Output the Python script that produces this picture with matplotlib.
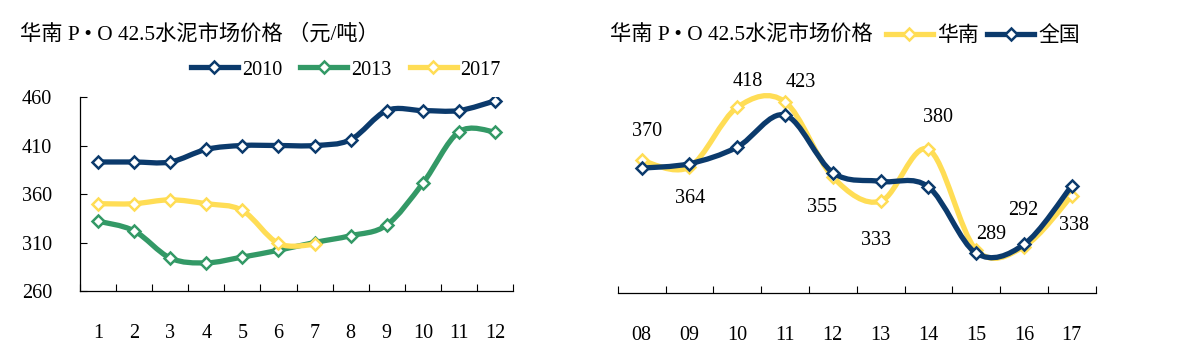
import numpy as np
import matplotlib
matplotlib.use("Agg")
from matplotlib import pyplot as plt
from matplotlib.path import Path
from matplotlib.patches import PathPatch
from matplotlib.lines import Line2D

FONT = ['Liberation Serif', 'Noto Sans CJK SC']
plt.rcParams['font.family'] = FONT

# left chart data
months = ['1', '2', '3', '4', '5', '6', '7', '8', '9', '10', '11', '12']
y2010 = [393, 393, 393, 406, 410, 410, 410, 416, 446, 446, 446, 456]
y2013 = [332, 322, 294, 289, 295, 302, 310, 317, 328, 371, 424, 424]
y2017 = [350, 350, 354, 350, 343, 309, 308]

# right chart data
years = ['08', '09', '10', '11', '12', '13', '14', '15', '16', '17']
south = [370, 364, 418, 423, 355, 333, 380, 289, 292, 338]
national = [363, 367, 382, 411, 359, 351, 346, 286, 294, 347]

# label offsets (pixels) for the south labels
lab_off = [(5, 29), (1, -31), (11, 26), (16, 19), (-11, -31),
           (-5, -39), (10, 32), (15, 15), (-1, 36), (2, -30)]

NAVY = '#0B3A6C'
GREEN = '#339966'
YELLOW = '#FFDD55'


def smooth_line(ax, xs, ys, color, zorder):
    pts = np.column_stack([xs, ys]).astype(float)
    n = len(pts)
    verts = [pts[0]]
    codes = [Path.MOVETO]
    for i in range(n - 1):
        p0 = pts[i - 1] if i > 0 else pts[i]
        p1 = pts[i]
        p2 = pts[i + 1]
        p3 = pts[i + 2] if i + 2 < n else pts[i + 1]
        c1 = p1 + (p2 - p0) / 6.0
        c2 = p2 - (p3 - p1) / 6.0
        verts += [c1, c2, p2]
        codes += [Path.CURVE4] * 3
    patch = PathPatch(Path(verts, codes), fill=False, edgecolor=color,
                      lw=3.8, capstyle='round', joinstyle='round', zorder=zorder)
    ax.add_patch(patch)
    ax.plot(xs, ys, ls='none', marker='D', ms=6.5, mfc='white', mec=color,
            mew=1.8, zorder=zorder + 0.5)


fig = plt.figure(figsize=(11.8, 3.51), dpi=100)

# ---------------- left
ax1 = fig.add_axes([80 / 1180, 60 / 351, 433 / 1180, 194 / 351])
x = np.arange(len(months))
smooth_line(ax1, x, y2010, NAVY, 3)
smooth_line(ax1, x, y2013, GREEN, 4)
smooth_line(ax1, np.arange(len(y2017)), y2017, YELLOW, 5)
ax1.set_xlim(-0.5, len(months) - 0.5)
ax1.set_ylim(260, 460)
ax1.set_yticks([260, 310, 360, 410, 460])
ax1.set_xticks(x)
ax1.set_xticklabels(months)
ax1.set_xticks(np.arange(-0.5, len(months)), minor=True)
ax1.tick_params(axis='x', which='major', length=0, pad=24, labelsize=14.5)
ax1.tick_params(axis='x', which='minor', direction='in', length=5, width=0.8)
ax1.tick_params(axis='y', direction='in', length=5, width=0.8, pad=20, labelsize=14.5)
for s in ['top', 'right']:
    ax1.spines[s].set_visible(False)
for s in ['left', 'bottom']:
    ax1.spines[s].set_linewidth(0.9)

fig.text(20 / 1180, 1 - 34 / 351, '华南 P • O 42.5水泥市场价格 （元/吨）', fontsize=15.3,
         va='center', ha='left')

h1 = [Line2D([], [], color=c, lw=3.8, marker='D', ms=6.5, mfc='white', mec=c, mew=1.8)
      for c in [NAVY, GREEN, YELLOW]]
fig.legend(h1, ['2010', '2013', '2017'], loc='center left',
           bbox_to_anchor=(191 / 1180, 1 - 70 / 351), ncol=3, frameon=False,
           fontsize=14.5, handlelength=2.33, handletextpad=0.2, columnspacing=0.9,
           borderpad=0, borderaxespad=0)

# ---------------- right
ax2 = fig.add_axes([617.7 / 1180, 58 / 351, 478 / 1180, 221 / 351])
xr = np.arange(len(years))
smooth_line(ax2, xr, south, YELLOW, 3)
smooth_line(ax2, xr, national, NAVY, 4)
for i, v in enumerate(south):
    ax2.annotate(str(v), (xr[i], v), xytext=lab_off[i], textcoords='offset pixels',
                 ha='center', va='center', fontsize=14.5)
ax2.set_xlim(-0.5, len(years) - 0.5)
ax2.set_ylim(250, 450)
ax2.set_yticks([])
ax2.set_xticks(xr)
ax2.set_xticklabels(years)
ax2.set_xticks(np.arange(-0.5, len(years)), minor=True)
ax2.tick_params(axis='x', which='major', length=0, pad=24, labelsize=14.5)
ax2.tick_params(axis='x', which='minor', direction='in', length=5, width=0.8)
for s in ['top', 'right', 'left']:
    ax2.spines[s].set_visible(False)
ax2.spines['bottom'].set_linewidth(0.9)

fig.text(610 / 1180, 1 - 36 / 351, '华南 P • O 42.5水泥市场价格', fontsize=15.3,
         va='center', ha='left')
h2 = [Line2D([], [], color=c, lw=3.8, marker='D', ms=6.5, mfc='white', mec=c, mew=1.8)
      for c in [YELLOW, NAVY]]
fig.legend(h2, ['华南', '全国'], loc='center left',
           bbox_to_anchor=(886 / 1180, 1 - 36 / 351), ncol=2, frameon=False,
           fontsize=15, handlelength=2.25, handletextpad=0.2, columnspacing=0.4,
           borderpad=0, borderaxespad=0)

fig.savefig('out.png', dpi=100, facecolor='white')
